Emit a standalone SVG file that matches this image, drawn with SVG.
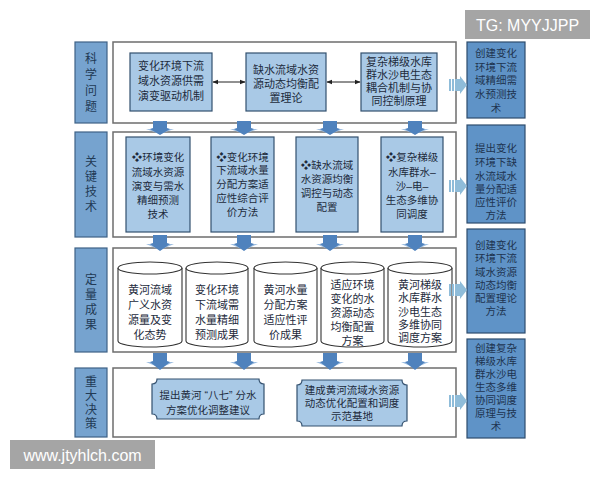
<svg xmlns="http://www.w3.org/2000/svg" width="600" height="480" viewBox="0 0 600 480">
<defs>
<style>
text{font-family:"Liberation Sans","Noto Sans CJK SC",sans-serif;fill:#1d2b3c;text-anchor:middle;dominant-baseline:central}
.lab{fill:#76a3cf;stroke:#3f6286;stroke-width:1.2}
.lab-t{font-size:12px;fill:#223a55}
.big{fill:#fff;stroke:#6d6d6d;stroke-width:1.5}
.inner{fill:#a9c9e6;stroke:#33506e;stroke-width:1.2}
.t11{font-size:11px}
.t105{font-size:10.5px}
.cyl{fill:#fff;stroke:#333;stroke-width:1.1}
.res{fill:#5f93c7;stroke:#2d4c6d;stroke-width:1.2}
.res-t{font-size:10.5px;fill:#1e3450}
.down{fill:#4f82bd}
.flare{fill:#9dbde0}
.right{fill:#8fbcd9}
.wm{fill:#a5a5a5}
.wm-t{font-family:"Liberation Sans","DejaVu Sans",sans-serif;fill:#fff;text-anchor:middle}
</style>
<marker id="ah" viewBox="0 0 10 10" refX="9" refY="5" markerWidth="6" markerHeight="6" orient="auto-start-reverse">
<path d="M0,1 L10,5 L0,9 Z" fill="#222"/>
</marker>
</defs>
<rect width="600" height="480" fill="#fff"/>

<!-- Row frames and labels -->
<g id="row1">
<rect class="lab" x="75" y="42" width="32" height="81"/>
<text class="lab-t" x="91" y="59">科</text><text class="lab-t" x="91" y="75">学</text><text class="lab-t" x="91" y="91">问</text><text class="lab-t" x="91" y="107">题</text>
<rect class="big" x="113" y="42" width="343" height="81"/>
</g>
<g id="row2">
<rect class="lab" x="75" y="132" width="32" height="105"/>
<text class="lab-t" x="91" y="162">关</text><text class="lab-t" x="91" y="177">键</text><text class="lab-t" x="91" y="192">技</text><text class="lab-t" x="91" y="207">术</text>
<rect class="big" x="113" y="132" width="343" height="105"/>
</g>
<g id="row3">
<rect class="lab" x="75" y="248" width="32" height="104"/>
<text class="lab-t" x="91" y="280">定</text><text class="lab-t" x="91" y="295">量</text><text class="lab-t" x="91" y="310">成</text><text class="lab-t" x="91" y="325">果</text>
<rect class="big" x="113" y="248" width="343" height="104"/>
</g>
<g id="row4">
<rect class="lab" x="75" y="368" width="32" height="69"/>
<text class="lab-t" x="91" y="381.5">重</text><text class="lab-t" x="91" y="395.5">大</text><text class="lab-t" x="91" y="409.5">决</text><text class="lab-t" x="91" y="423.5">策</text>
<rect class="big" x="113" y="368" width="343" height="69"/>
</g>

<!-- Row 1 nodes -->
<g id="q1">
<rect class="inner" x="130" y="53" width="82" height="58"/>
<text class="t11" x="171" y="66">变化环境下流</text><text class="t11" x="171" y="81">域水资源供需</text><text class="t11" x="171" y="96">演变驱动机制</text>
</g>
<g id="q2">
<rect class="inner" x="246" y="53" width="80" height="58"/>
<text class="t11" x="286" y="70">缺水流域水资</text><text class="t11" x="286" y="84">源动态均衡配</text><text class="t11" x="286" y="98">置理论</text>
</g>
<g id="q3">
<rect class="inner" x="361" y="53" width="76" height="58"/>
<text class="t11" x="399" y="62">复杂梯级水库</text><text class="t11" x="399" y="75">群水沙电生态</text><text class="t11" x="399" y="88">耦合机制与协</text><text class="t11" x="399" y="101">同控制原理</text>
</g>

<!-- Row 2 nodes -->
<g id="k1">
<rect class="inner" x="126" y="137" width="64" height="95"/>
<text class="t105" x="158" y="157">❖环境变化</text><text class="t105" x="158" y="172">流域水资源</text><text class="t105" x="158" y="186">演变与需水</text><text class="t105" x="158" y="200">精细预测</text><text class="t105" x="158" y="214">技术</text>
</g>
<g id="k2">
<rect class="inner" x="211" y="137" width="63" height="95"/>
<text class="t105" x="242.5" y="157">❖变化环境</text><text class="t105" x="242.5" y="170">下流域水量</text><text class="t105" x="242.5" y="184">分配方案适</text><text class="t105" x="242.5" y="198">应性综合评</text><text class="t105" x="242.5" y="212">价方法</text>
</g>
<g id="k3">
<rect class="inner" x="296" y="137" width="62" height="95"/>
<text class="t105" x="327" y="165">❖缺水流域</text><text class="t105" x="327" y="179">水资源均衡</text><text class="t105" x="327" y="193">调控与动态</text><text class="t105" x="327" y="207">配置</text>
</g>
<g id="k4">
<rect class="inner" x="381" y="137" width="62" height="95"/>
<text class="t105" x="412" y="157">❖复杂梯级</text><text class="t105" x="412" y="172">水库群水–</text><text class="t105" x="412" y="186">沙–电–</text><text class="t105" x="412" y="200">生态多维协</text><text class="t105" x="412" y="214">同调度</text>
</g>

<!-- Row 3 cylinders -->
<g id="c1">
<path class="cyl" d="M118,268 L118,341 A32,6 0 0 0 182,341 L182,268"/>
<ellipse class="cyl" cx="150" cy="268" rx="32" ry="6"/>
<text class="t11" x="150" y="290">黄河流域</text><text class="t11" x="150" y="305">广义水资</text><text class="t11" x="150" y="320">源量及变</text><text class="t11" x="150" y="335">化态势</text>
</g>
<g id="c2">
<path class="cyl" d="M186,268 L186,341 A31,6 0 0 0 248,341 L248,268"/>
<ellipse class="cyl" cx="217" cy="268" rx="31" ry="6"/>
<text class="t11" x="217" y="290">变化环境</text><text class="t11" x="217" y="305">下流域需</text><text class="t11" x="217" y="320">水量精细</text><text class="t11" x="217" y="335">预测成果</text>
</g>
<g id="c3">
<path class="cyl" d="M254,268 L254,341 A31.5,6 0 0 0 317,341 L317,268"/>
<ellipse class="cyl" cx="285.5" cy="268" rx="31.5" ry="6"/>
<text class="t11" x="285.5" y="290">黄河水量</text><text class="t11" x="285.5" y="305">分配方案</text><text class="t11" x="285.5" y="320">适应性评</text><text class="t11" x="285.5" y="335">价成果</text>
</g>
<g id="c4">
<path class="cyl" d="M321,268 L321,341 A31.5,6 0 0 0 384,341 L384,268"/>
<ellipse class="cyl" cx="352.5" cy="268" rx="31.5" ry="6"/>
<text class="t11" x="352.5" y="285">适应环境</text><text class="t11" x="352.5" y="299">变化的水</text><text class="t11" x="352.5" y="313">资源动态</text><text class="t11" x="352.5" y="327">均衡配置</text><text class="t11" x="352.5" y="341">方案</text>
</g>
<g id="c5">
<path class="cyl" d="M388,268 L388,341 A32,6 0 0 0 452,341 L452,268"/>
<ellipse class="cyl" cx="420" cy="268" rx="32" ry="6"/>
<text class="t11" x="420" y="285">黄河梯级</text><text class="t11" x="420" y="298">水库群水</text><text class="t11" x="420" y="312">沙电生态</text><text class="t11" x="420" y="325">多维协同</text><text class="t11" x="420" y="338">调度方案</text>
</g>

<!-- Row 4 nodes -->
<g id="d1">
<path class="inner" d="M157,379 H259 Q259,384 264,384 V414 Q259,414 259,419 H157 Q157,414 152,414 V384 Q157,384 157,379 Z"/>
<text class="t105" x="208" y="395">提出黄河 “八七” 分水</text><text class="t105" x="208" y="410">方案优化调整建议</text>
</g>
<g id="d2">
<path class="inner" d="M302,380 H402 Q402,385 407,385 V421 Q402,421 402,426 H302 Q302,421 297,421 V385 Q302,385 302,380 Z"/>
<text class="t105" x="352" y="390">建成黄河流域水资源</text><text class="t105" x="352" y="403">动态优化配置和调度</text><text class="t105" x="352" y="416">示范基地</text>
</g>

<!-- Right column -->
<g id="r1">
<rect class="res" x="467" y="42" width="58" height="76"/>
<text class="res-t" x="496" y="53">创建变化</text><text class="res-t" x="496" y="67">环境下流</text><text class="res-t" x="496" y="80">域精细需</text><text class="res-t" x="496" y="94">水预测技</text><text class="res-t" x="496" y="108">术</text>
</g>
<g id="r2">
<rect class="res" x="467" y="125" width="58" height="98"/>
<text class="res-t" x="496" y="148">提出变化</text><text class="res-t" x="496" y="162">环境下缺</text><text class="res-t" x="496" y="176">水流域水</text><text class="res-t" x="496" y="189">量分配适</text><text class="res-t" x="496" y="202">应性评价</text><text class="res-t" x="496" y="215">方法</text>
</g>
<g id="r3">
<rect class="res" x="467" y="229" width="58" height="104"/>
<text class="res-t" x="496" y="245">创建变化</text><text class="res-t" x="496" y="258">环境下流</text><text class="res-t" x="496" y="272">域水资源</text><text class="res-t" x="496" y="285">动态均衡</text><text class="res-t" x="496" y="298">配置理论</text><text class="res-t" x="496" y="311">方法</text>
</g>
<g id="r4">
<rect class="res" x="467" y="339" width="58" height="99"/>
<text class="res-t" x="496" y="348">创建复杂</text><text class="res-t" x="496" y="361">梯级水库</text><text class="res-t" x="496" y="374">群水沙电</text><text class="res-t" x="496" y="387">生态多维</text><text class="res-t" x="496" y="400">协同调度</text><text class="res-t" x="496" y="413">原理与技</text><text class="res-t" x="496" y="426">术</text>
</g>

<!-- Connectors -->
<g id="connectors">
<line x1="213" y1="82" x2="245" y2="82" stroke="#222" stroke-width="1" marker-start="url(#ah)" marker-end="url(#ah)"/>
<line x1="327" y1="82" x2="360" y2="82" stroke="#222" stroke-width="1" marker-start="url(#ah)" marker-end="url(#ah)"/>
<g id="down-arrows">
<path class="flare" d="M146,129 L174,129 L160,134 Z"/>
<path class="down" d="M153,121 H167 V128 L170,129 L160,135 L150,129 L153,128 Z"/>
<path class="flare" d="M230,129 L258,129 L244,134 Z"/>
<path class="down" d="M237,121 H251 V128 L254,129 L244,135 L234,129 L237,128 Z"/>
<path class="flare" d="M316,129 L344,129 L330,134 Z"/>
<path class="down" d="M323,121 H337 V128 L340,129 L330,135 L320,129 L323,128 Z"/>
<path class="flare" d="M401,129 L429,129 L415,134 Z"/>
<path class="down" d="M408,121 H422 V128 L425,129 L415,135 L405,129 L408,128 Z"/>

<path class="flare" d="M146,244 L174,244 L160,250 Z"/>
<path class="down" d="M153,235 H167 V243 L170,244 L160,251 L150,244 L153,243 Z"/>
<path class="flare" d="M230,244 L258,244 L244,250 Z"/>
<path class="down" d="M237,235 H251 V243 L254,244 L244,251 L234,244 L237,243 Z"/>
<path class="flare" d="M316,244 L344,244 L330,250 Z"/>
<path class="down" d="M323,235 H337 V243 L340,244 L330,251 L320,244 L323,243 Z"/>
<path class="flare" d="M401,244 L429,244 L415,250 Z"/>
<path class="down" d="M408,235 H422 V243 L425,244 L415,251 L405,244 L408,243 Z"/>

<path class="flare" d="M146,362 L174,362 L160,368 Z"/>
<path class="down" d="M153,353 H167 V361 L170,362 L160,370 L150,362 L153,361 Z"/>
<path class="flare" d="M230,362 L258,362 L244,368 Z"/>
<path class="down" d="M237,353 H251 V361 L254,362 L244,370 L234,362 L237,361 Z"/>
<path class="flare" d="M316,362 L344,362 L330,368 Z"/>
<path class="down" d="M323,353 H337 V361 L340,362 L330,370 L320,362 L323,361 Z"/>
<path class="flare" d="M401,362 L429,362 L415,368 Z"/>
<path class="down" d="M408,353 H422 V361 L425,362 L415,370 L405,362 L408,361 Z"/>
</g>
<g id="right-arrows">
<rect class="right" x="449" y="79" width="2" height="12"/><rect class="right" x="452" y="79" width="2" height="12"/>
<path class="right" d="M455,79 H460 V76 L467,85 L460,94 V91 H455 Z"/>
<rect class="right" x="449" y="180" width="2" height="12"/><rect class="right" x="452" y="180" width="2" height="12"/>
<path class="right" d="M455,180 H460 V177 L467,186 L460,195 V192 H455 Z"/>
<rect class="right" x="449" y="284" width="2" height="12"/><rect class="right" x="452" y="284" width="2" height="12"/>
<path class="right" d="M455,284 H460 V281 L467,290 L460,299 V296 H455 Z"/>
<rect class="right" x="449" y="395" width="2" height="12"/><rect class="right" x="452" y="395" width="2" height="12"/>
<path class="right" d="M455,395 H460 V392 L467,401 L460,410 V407 H455 Z"/>
</g>
</g>

<!-- Watermarks -->
<g id="wm1">
<rect class="wm" x="465" y="10" width="125" height="29"/>
<text class="wm-t" x="527.5" y="25" font-size="16">TG: MYYJJPP</text>
</g>
<g id="wm2">
<rect class="wm" x="10" y="440" width="145" height="29"/>
<text class="wm-t" x="82.5" y="455" font-size="16">www.jtyhlch.com</text>
</g>
</svg>
